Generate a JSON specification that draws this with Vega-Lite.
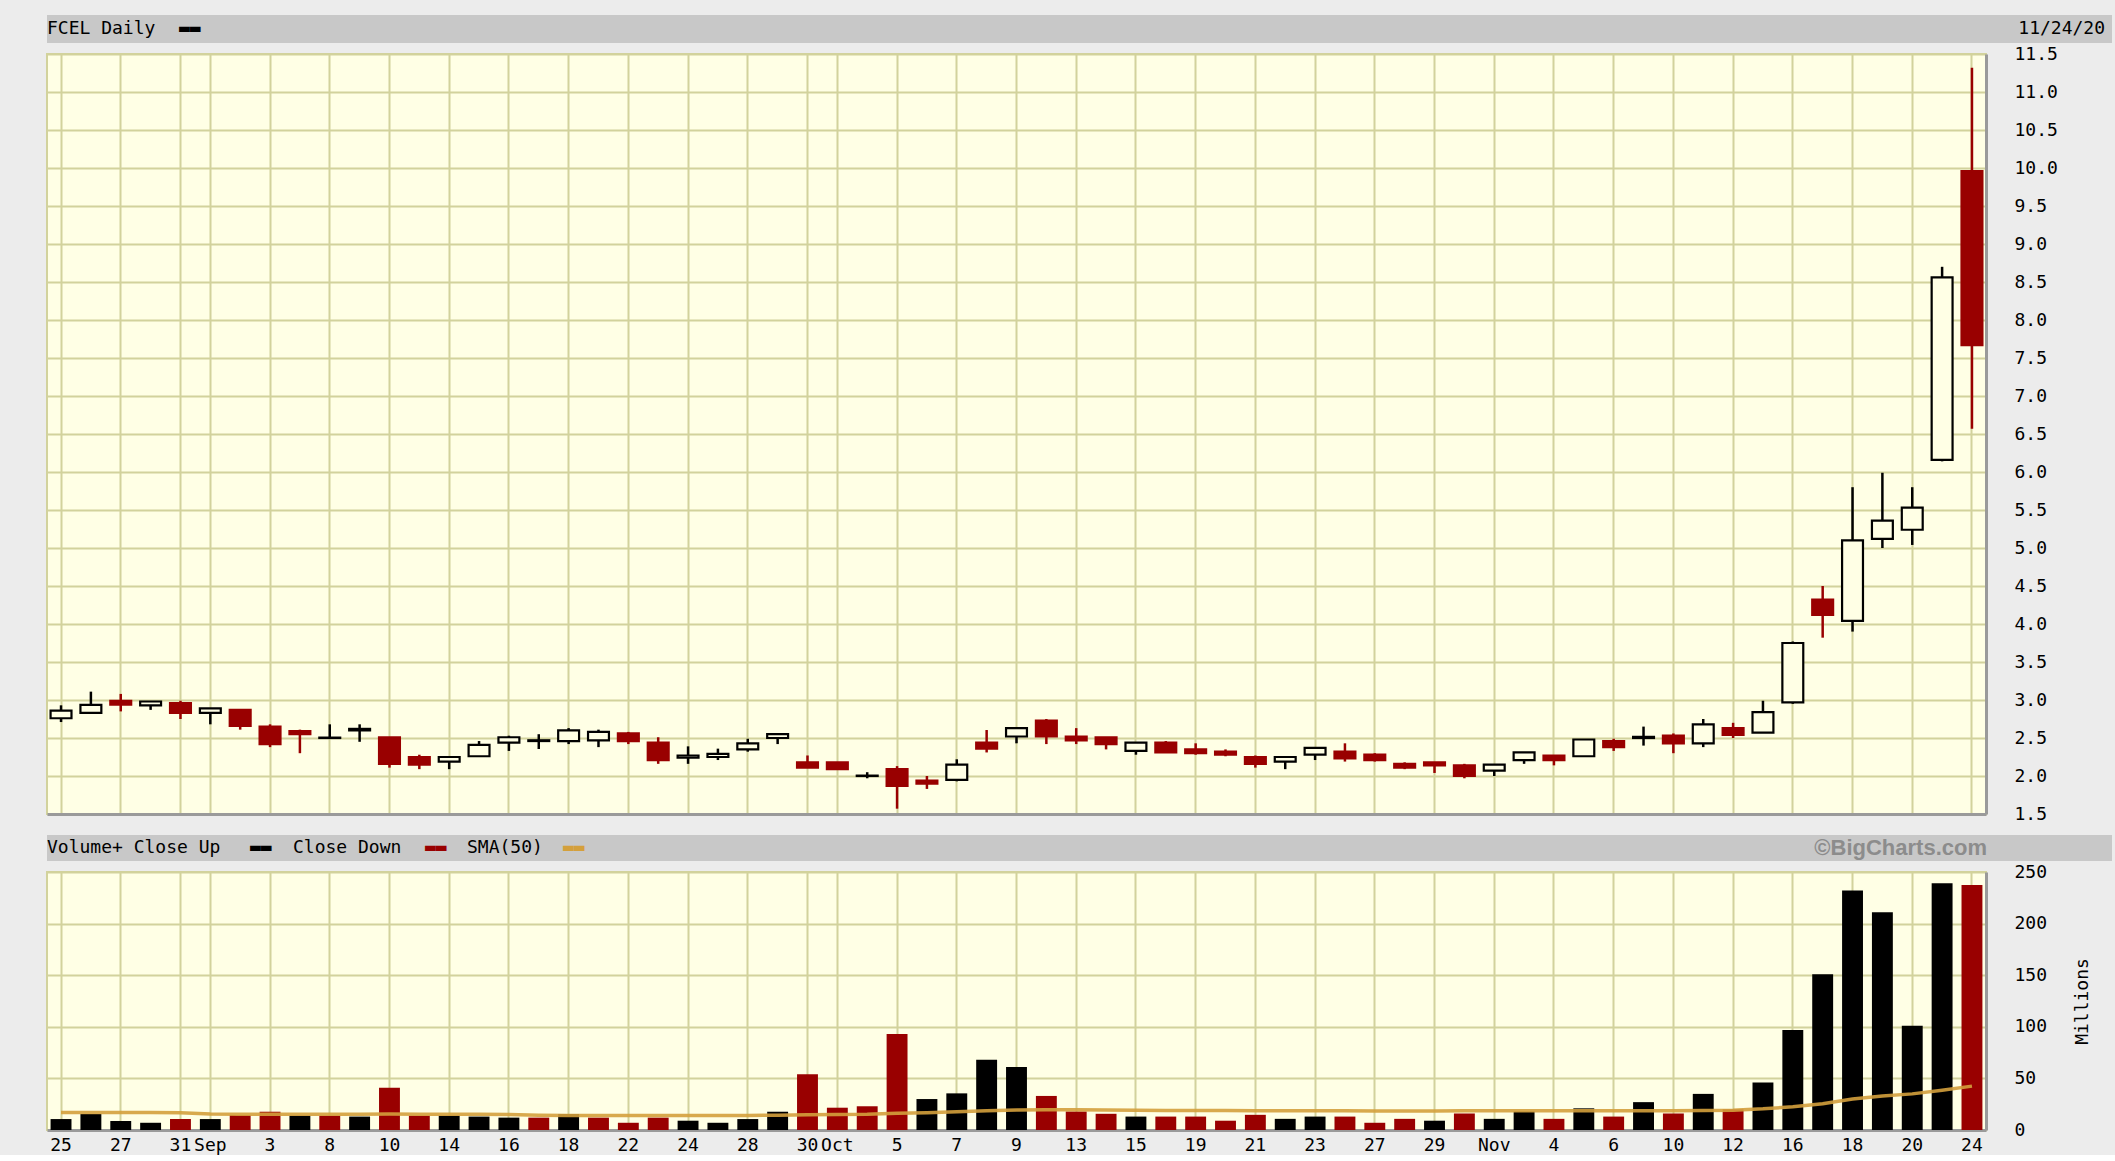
{
  "$schema": "https://vega.github.io/schema/vega-lite/v6.json",
  "background": "#ECECEC",
  "padding": {"left": 46, "top": 15, "right": 4, "bottom": 0},
  "spacing": 1,
  "bounds": "full",
  "resolve": {"scale": {"x": "independent", "y": "independent", "color": "independent"}},
  "datasets": {
    "hdr1": [
      {"pos": "left", "part": "text", "txt": "FCEL Daily"},
      {"pos": "left", "part": "bar", "txt": "▬▬"},
      {"pos": "right", "part": "date", "txt": "11/24/20"}
    ],
    "hdr2": [
      {"pos": "left", "part": "t1", "txt": "Volume+ Close Up"},
      {"pos": "left", "part": "up", "txt": "▬▬"},
      {"pos": "left", "part": "t2", "txt": "Close Down"},
      {"pos": "left", "part": "down", "txt": "▬▬"},
      {"pos": "left", "part": "t3", "txt": "SMA(50)"},
      {"pos": "left", "part": "sma", "txt": "▬▬"},
      {"pos": "right", "part": "copy", "txt": "©BigCharts.com"}
    ],
    "px": [
      {"d": "2020-08-25", "o": 2.76, "h": 2.93, "l": 2.71, "c": 2.86, "v": 10.6, "vd": "Close Up", "sma": 17.0},
      {"d": "2020-08-26", "o": 2.83, "h": 3.11, "l": 2.83, "c": 2.935, "v": 15.5, "vd": "Close Up", "sma": 17.0},
      {"d": "2020-08-27", "o": 2.99, "h": 3.08, "l": 2.85, "c": 2.94, "v": 8.7, "vd": "Close Up", "sma": 17.0},
      {"d": "2020-08-28", "o": 2.93, "h": 2.98, "l": 2.87, "c": 2.98, "v": 7.0, "vd": "Close Up", "sma": 17.0},
      {"d": "2020-08-31", "o": 2.96, "h": 2.99, "l": 2.75, "c": 2.83, "v": 10.6, "vd": "Close Down", "sma": 16.8},
      {"d": "2020-09-01", "o": 2.83, "h": 2.89, "l": 2.68, "c": 2.89, "v": 10.6, "vd": "Close Up", "sma": 15.6},
      {"d": "2020-09-02", "o": 2.87, "h": 2.87, "l": 2.61, "c": 2.66, "v": 14.5, "vd": "Close Down", "sma": 15.3},
      {"d": "2020-09-03", "o": 2.65, "h": 2.68, "l": 2.38, "c": 2.42, "v": 17.7, "vd": "Close Down", "sma": 15.3},
      {"d": "2020-09-04", "o": 2.59, "h": 2.61, "l": 2.30, "c": 2.55, "v": 14.0, "vd": "Close Up", "sma": 15.3},
      {"d": "2020-09-08", "o": 2.50, "h": 2.68, "l": 2.49, "c": 2.505, "v": 14.0, "vd": "Close Down", "sma": 15.2},
      {"d": "2020-09-09", "o": 2.60, "h": 2.68, "l": 2.45, "c": 2.62, "v": 13.0, "vd": "Close Up", "sma": 15.2},
      {"d": "2020-09-10", "o": 2.51, "h": 2.51, "l": 2.11, "c": 2.16, "v": 41.0, "vd": "Close Down", "sma": 15.4},
      {"d": "2020-09-11", "o": 2.25, "h": 2.28, "l": 2.09, "c": 2.15, "v": 14.0, "vd": "Close Down", "sma": 15.3},
      {"d": "2020-09-14", "o": 2.19, "h": 2.25, "l": 2.09, "c": 2.25, "v": 14.0, "vd": "Close Up", "sma": 15.3},
      {"d": "2020-09-15", "o": 2.26, "h": 2.46, "l": 2.26, "c": 2.41, "v": 13.0, "vd": "Close Up", "sma": 15.2},
      {"d": "2020-09-16", "o": 2.44, "h": 2.53, "l": 2.33, "c": 2.51, "v": 12.0, "vd": "Close Up", "sma": 15.0},
      {"d": "2020-09-17", "o": 2.46, "h": 2.55, "l": 2.355, "c": 2.47, "v": 12.0, "vd": "Close Down", "sma": 14.3},
      {"d": "2020-09-18", "o": 2.46, "h": 2.63, "l": 2.42, "c": 2.60, "v": 15.5, "vd": "Close Up", "sma": 14.1},
      {"d": "2020-09-21", "o": 2.47, "h": 2.61, "l": 2.38, "c": 2.58, "v": 12.0, "vd": "Close Down", "sma": 14.0},
      {"d": "2020-09-22", "o": 2.56, "h": 2.58, "l": 2.42, "c": 2.46, "v": 7.0, "vd": "Close Down", "sma": 14.0},
      {"d": "2020-09-23", "o": 2.44, "h": 2.51, "l": 2.16, "c": 2.21, "v": 12.0, "vd": "Close Down", "sma": 14.0},
      {"d": "2020-09-24", "o": 2.24, "h": 2.39, "l": 2.16, "c": 2.27, "v": 9.0, "vd": "Close Up", "sma": 14.0},
      {"d": "2020-09-25", "o": 2.25, "h": 2.36, "l": 2.21, "c": 2.29, "v": 7.0, "vd": "Close Up", "sma": 14.0},
      {"d": "2020-09-28", "o": 2.35, "h": 2.49, "l": 2.32, "c": 2.43, "v": 10.6, "vd": "Close Up", "sma": 14.1},
      {"d": "2020-09-29", "o": 2.50, "h": 2.55, "l": 2.42, "c": 2.55, "v": 17.7, "vd": "Close Up", "sma": 14.3},
      {"d": "2020-09-30", "o": 2.18, "h": 2.27, "l": 2.11, "c": 2.11, "v": 54.0, "vd": "Close Down", "sma": 14.8},
      {"d": "2020-10-01", "o": 2.18, "h": 2.18, "l": 2.09, "c": 2.09, "v": 21.6, "vd": "Close Down", "sma": 15.0},
      {"d": "2020-10-02", "o": 2.00, "h": 2.05, "l": 1.97, "c": 2.005, "v": 23.0, "vd": "Close Down", "sma": 15.2},
      {"d": "2020-10-05", "o": 2.09, "h": 2.13, "l": 1.57, "c": 1.87, "v": 93.0, "vd": "Close Down", "sma": 16.2},
      {"d": "2020-10-06", "o": 1.94, "h": 2.00, "l": 1.83, "c": 1.90, "v": 30.0, "vd": "Close Up", "sma": 16.7},
      {"d": "2020-10-07", "o": 1.95, "h": 2.22, "l": 1.93, "c": 2.15, "v": 35.5, "vd": "Close Up", "sma": 17.6},
      {"d": "2020-10-08", "o": 2.44, "h": 2.605, "l": 2.31, "c": 2.36, "v": 68.0, "vd": "Close Up", "sma": 18.6},
      {"d": "2020-10-09", "o": 2.52, "h": 2.63, "l": 2.43, "c": 2.63, "v": 61.0, "vd": "Close Up", "sma": 19.4},
      {"d": "2020-10-12", "o": 2.73, "h": 2.75, "l": 2.42, "c": 2.52, "v": 33.0, "vd": "Close Down", "sma": 19.7},
      {"d": "2020-10-13", "o": 2.52, "h": 2.63, "l": 2.42, "c": 2.47, "v": 18.0, "vd": "Close Down", "sma": 19.6},
      {"d": "2020-10-14", "o": 2.51, "h": 2.51, "l": 2.35, "c": 2.42, "v": 15.7, "vd": "Close Down", "sma": 19.4},
      {"d": "2020-10-15", "o": 2.33, "h": 2.44, "l": 2.28, "c": 2.44, "v": 13.0, "vd": "Close Up", "sma": 19.2},
      {"d": "2020-10-16", "o": 2.44, "h": 2.46, "l": 2.31, "c": 2.31, "v": 13.0, "vd": "Close Down", "sma": 19.0},
      {"d": "2020-10-19", "o": 2.35, "h": 2.43, "l": 2.28, "c": 2.30, "v": 13.0, "vd": "Close Down", "sma": 18.9},
      {"d": "2020-10-20", "o": 2.32, "h": 2.35, "l": 2.26, "c": 2.28, "v": 9.0, "vd": "Close Down", "sma": 18.8},
      {"d": "2020-10-21", "o": 2.25, "h": 2.27, "l": 2.11, "c": 2.16, "v": 14.7, "vd": "Close Down", "sma": 18.7},
      {"d": "2020-10-22", "o": 2.19, "h": 2.25, "l": 2.09, "c": 2.25, "v": 10.8, "vd": "Close Up", "sma": 18.6},
      {"d": "2020-10-23", "o": 2.28, "h": 2.37, "l": 2.21, "c": 2.37, "v": 13.0, "vd": "Close Up", "sma": 18.6},
      {"d": "2020-10-26", "o": 2.32, "h": 2.43, "l": 2.19, "c": 2.23, "v": 13.0, "vd": "Close Down", "sma": 18.6},
      {"d": "2020-10-27", "o": 2.28, "h": 2.30, "l": 2.19, "c": 2.21, "v": 7.0, "vd": "Close Down", "sma": 18.5},
      {"d": "2020-10-28", "o": 2.16, "h": 2.18, "l": 2.09, "c": 2.11, "v": 10.8, "vd": "Close Down", "sma": 18.5},
      {"d": "2020-10-29", "o": 2.18, "h": 2.18, "l": 2.04, "c": 2.14, "v": 9.0, "vd": "Close Up", "sma": 18.5},
      {"d": "2020-10-30", "o": 2.14, "h": 2.16, "l": 1.97, "c": 2.00, "v": 16.0, "vd": "Close Down", "sma": 18.6},
      {"d": "2020-11-02", "o": 2.07, "h": 2.15, "l": 2.00, "c": 2.15, "v": 10.8, "vd": "Close Up", "sma": 18.6},
      {"d": "2020-11-03", "o": 2.21, "h": 2.31, "l": 2.16, "c": 2.31, "v": 18.0, "vd": "Close Up", "sma": 18.7},
      {"d": "2020-11-04", "o": 2.27, "h": 2.27, "l": 2.14, "c": 2.21, "v": 10.8, "vd": "Close Down", "sma": 18.6},
      {"d": "2020-11-05", "o": 2.26, "h": 2.48, "l": 2.26, "c": 2.48, "v": 21.0, "vd": "Close Up", "sma": 18.6},
      {"d": "2020-11-06", "o": 2.46, "h": 2.49, "l": 2.33, "c": 2.38, "v": 13.0, "vd": "Close Down", "sma": 18.6},
      {"d": "2020-11-09", "o": 2.50, "h": 2.65, "l": 2.40, "c": 2.515, "v": 27.0, "vd": "Close Up", "sma": 18.7},
      {"d": "2020-11-10", "o": 2.53, "h": 2.56, "l": 2.30, "c": 2.43, "v": 16.0, "vd": "Close Down", "sma": 18.7},
      {"d": "2020-11-11", "o": 2.43, "h": 2.75, "l": 2.38, "c": 2.68, "v": 35.0, "vd": "Close Up", "sma": 18.8},
      {"d": "2020-11-12", "o": 2.63, "h": 2.70, "l": 2.50, "c": 2.54, "v": 20.0, "vd": "Close Down", "sma": 19.2},
      {"d": "2020-11-13", "o": 2.57, "h": 2.99, "l": 2.57, "c": 2.84, "v": 46.0, "vd": "Close Up", "sma": 20.5},
      {"d": "2020-11-16", "o": 2.97, "h": 3.77, "l": 2.95, "c": 3.75, "v": 97.0, "vd": "Close Up", "sma": 22.5},
      {"d": "2020-11-17", "o": 4.32, "h": 4.50, "l": 3.82, "c": 4.12, "v": 151.0, "vd": "Close Up", "sma": 25.5},
      {"d": "2020-11-18", "o": 4.04, "h": 5.80, "l": 3.90, "c": 5.10, "v": 232.0, "vd": "Close Up", "sma": 30.0},
      {"d": "2020-11-19", "o": 5.12, "h": 5.99, "l": 5.00, "c": 5.36, "v": 211.0, "vd": "Close Up", "sma": 33.0},
      {"d": "2020-11-20", "o": 5.24, "h": 5.80, "l": 5.04, "c": 5.53, "v": 101.0, "vd": "Close Up", "sma": 35.0},
      {"d": "2020-11-23", "o": 6.16, "h": 8.70, "l": 6.14, "c": 8.56, "v": 239.0, "vd": "Close Up", "sma": 38.5},
      {"d": "2020-11-24", "o": 9.96, "h": 11.32, "l": 6.57, "c": 7.67, "v": 237.5, "vd": "Close Down", "sma": 42.5}
    ]
  },
  "vconcat": [
    {
      "width": 2065,
      "height": 28,
      "view": {"fill": "#C8C8C8", "stroke": null},
      "data": {"name": "hdr1"},
      "encoding": {
        "x": {"field": "pos", "type": "nominal", "scale": {"type": "point", "domain": ["left", "right"], "padding": 0}, "axis": null},
        "text": {"field": "txt"}
      },
      "layer": [
        {"transform": [{"filter": "datum.part == 'text'"}], "mark": {"type": "text", "align": "left", "baseline": "middle", "font": "DejaVu Sans Mono", "fontSize": 18, "color": "#000000"}},
        {"transform": [{"filter": "datum.part == 'bar'"}], "mark": {"type": "text", "align": "left", "baseline": "middle", "dx": 132, "font": "DejaVu Sans Mono", "fontSize": 18, "color": "#000000"}},
        {"transform": [{"filter": "datum.part == 'date'"}], "mark": {"type": "text", "align": "right", "baseline": "middle", "dx": -7, "font": "DejaVu Sans Mono", "fontSize": 18, "color": "#000000"}}
      ]
    },
    {
      "width": 1939,
      "height": 760,
      "view": {"fill": "#FFFFE5", "stroke": "#D2D29C", "strokeWidth": 2},
      "data": {"name": "px"},
      "encoding": {
        "x": {
          "field": "d", "type": "ordinal",
          "scale": {"type": "band", "paddingInner": 0.3, "paddingOuter": 0.12},
          "axis": {
            "values": ["2020-08-25","2020-08-27","2020-08-31","2020-09-01","2020-09-03","2020-09-08","2020-09-10","2020-09-14","2020-09-16","2020-09-18","2020-09-22","2020-09-24","2020-09-28","2020-09-30","2020-10-01","2020-10-05","2020-10-07","2020-10-09","2020-10-13","2020-10-15","2020-10-19","2020-10-21","2020-10-23","2020-10-27","2020-10-29","2020-11-02","2020-11-04","2020-11-06","2020-11-10","2020-11-12","2020-11-16","2020-11-18","2020-11-20","2020-11-24"],
            "labels": false, "ticks": true, "tickSize": 19, "tickOpacity": 0,
            "grid": true, "domain": true, "title": null, "bandPosition": 0.5
          }
        }
      },
      "layer": [
        {
          "mark": {"type": "rule", "strokeWidth": 2.5},
          "encoding": {
            "y": {
              "field": "l", "type": "quantitative",
              "scale": {"domain": [1.5, 11.5], "nice": false, "zero": false},
              "axis": {"orient": "right", "values": [1.5,2,2.5,3,3.5,4,4.5,5,5.5,6,6.5,7,7.5,8,8.5,9,9.5,10,10.5,11,11.5], "format": ".1f", "labelPadding": 28, "grid": true, "domain": true, "title": null}
            },
            "y2": {"field": "h"},
            "color": {"condition": {"test": "datum.c < datum.o", "value": "#990000"}, "value": "#000000"}
          }
        },
        {
          "mark": {"type": "bar", "strokeWidth": 2.2},
          "encoding": {
            "y": {
              "field": "o", "type": "quantitative",
              "axis": {"orient": "right", "values": [1.5,2,2.5,3,3.5,4,4.5,5,5.5,6,6.5,7,7.5,8,8.5,9,9.5,10,10.5,11,11.5], "format": ".1f", "labelPadding": 28, "grid": true, "domain": true, "title": null}
            },
            "y2": {"field": "c"},
            "fill": {"condition": {"test": "datum.c < datum.o", "value": "#990000"}, "value": "#FFFFE5"},
            "stroke": {"condition": {"test": "datum.c < datum.o", "value": "#990000"}, "value": "#000000"}
          }
        }
      ]
    },
    {
      "width": 2065,
      "height": 26,
      "view": {"fill": "#C8C8C8", "stroke": null},
      "data": {"name": "hdr2"},
      "encoding": {
        "x": {"field": "pos", "type": "nominal", "scale": {"type": "point", "domain": ["left", "right"], "padding": 0}, "axis": null},
        "text": {"field": "txt"}
      },
      "layer": [
        {"transform": [{"filter": "datum.part == 't1'"}], "mark": {"type": "text", "align": "left", "baseline": "middle", "font": "DejaVu Sans Mono", "fontSize": 18, "color": "#000000"}},
        {"transform": [{"filter": "datum.part == 'up'"}], "mark": {"type": "text", "align": "left", "baseline": "middle", "dx": 203, "font": "DejaVu Sans Mono", "fontSize": 18, "color": "#000000"}},
        {"transform": [{"filter": "datum.part == 't2'"}], "mark": {"type": "text", "align": "left", "baseline": "middle", "dx": 246, "font": "DejaVu Sans Mono", "fontSize": 18, "color": "#000000"}},
        {"transform": [{"filter": "datum.part == 'down'"}], "mark": {"type": "text", "align": "left", "baseline": "middle", "dx": 378, "font": "DejaVu Sans Mono", "fontSize": 18, "color": "#990000"}},
        {"transform": [{"filter": "datum.part == 't3'"}], "mark": {"type": "text", "align": "left", "baseline": "middle", "dx": 420, "font": "DejaVu Sans Mono", "fontSize": 18, "color": "#000000"}},
        {"transform": [{"filter": "datum.part == 'sma'"}], "mark": {"type": "text", "align": "left", "baseline": "middle", "dx": 516, "font": "DejaVu Sans Mono", "fontSize": 18, "color": "#D4A03C"}},
        {"transform": [{"filter": "datum.part == 'copy'"}], "mark": {"type": "text", "align": "right", "baseline": "middle", "dx": -125, "font": "Liberation Sans", "fontWeight": "bold", "fontSize": 22, "color": "#8C8C8C"}}
      ]
    },
    {
      "width": 1939,
      "height": 258,
      "view": {"fill": "#FFFFE5", "stroke": "#D2D29C", "strokeWidth": 2},
      "data": {"name": "px"},
      "encoding": {
        "x": {
          "field": "d", "type": "ordinal",
          "scale": {"type": "band", "paddingInner": 0.3, "paddingOuter": 0.12},
          "axis": {
            "values": ["2020-08-25","2020-08-27","2020-08-31","2020-09-01","2020-09-03","2020-09-08","2020-09-10","2020-09-14","2020-09-16","2020-09-18","2020-09-22","2020-09-24","2020-09-28","2020-09-30","2020-10-01","2020-10-05","2020-10-07","2020-10-09","2020-10-13","2020-10-15","2020-10-19","2020-10-21","2020-10-23","2020-10-27","2020-10-29","2020-11-02","2020-11-04","2020-11-06","2020-11-10","2020-11-12","2020-11-16","2020-11-18","2020-11-20","2020-11-24"],
            "labelExpr": "datum.value == '2020-09-01' ? 'Sep' : datum.value == '2020-10-01' ? 'Oct' : datum.value == '2020-11-02' ? 'Nov' : '' + toNumber(substring(datum.value, 8, 10))",
            "labelAngle": 0, "labelPadding": 6, "labelOverlap": false,
            "grid": true, "domain": true, "title": null, "bandPosition": 0.5
          }
        }
      },
      "layer": [
        {
          "mark": {"type": "bar"},
          "encoding": {
            "y": {
              "field": "v", "type": "quantitative",
              "scale": {"domain": [0, 250], "nice": false},
              "axis": {"orient": "right", "values": [0, 50, 100, 150, 200, 250], "labelPadding": 28, "grid": true, "domain": true, "title": "Millions", "titleAngle": 270, "titleBaseline": "middle", "titlePadding": 36}
            },
            "color": {"field": "vd", "type": "nominal", "scale": {"domain": ["Close Up", "Close Down"], "range": ["#000000", "#990000"]}, "legend": null}
          }
        },
        {
          "mark": {"type": "line", "color": "#D4A03C", "strokeWidth": 3.5, "opacity": 0.9},
          "encoding": {
            "y": {
              "field": "sma", "type": "quantitative",
              "axis": {"orient": "right", "values": [0, 50, 100, 150, 200, 250], "labelPadding": 28, "grid": true, "domain": true, "title": "Millions", "titleAngle": 270, "titleBaseline": "middle", "titlePadding": 36}
            }
          }
        }
      ]
    }
  ],
  "config": {
    "font": "DejaVu Sans Mono",
    "view": {"stroke": null},
    "axis": {
      "labelFont": "DejaVu Sans Mono", "labelFontSize": 18, "labelColor": "#000000",
      "titleFont": "DejaVu Sans Mono", "titleFontSize": 18, "titleFontWeight": "normal", "titleColor": "#000000",
      "gridColor": "#D2D29C", "gridWidth": 2, "gridOpacity": 1,
      "domainColor": "#9A9A9A", "domainWidth": 3, "ticks": false, "labelOverlap": false
    }
  }
}
